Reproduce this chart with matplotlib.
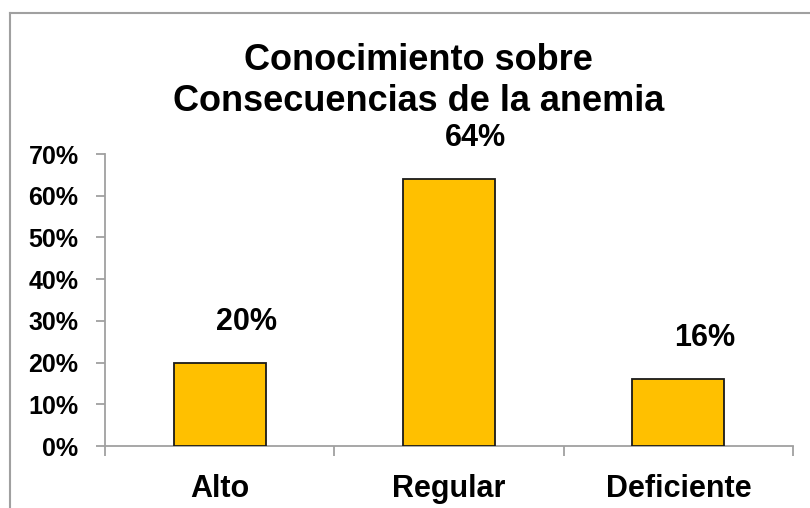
import matplotlib
matplotlib.use("Agg")
import matplotlib.pyplot as plt
from matplotlib.lines import Line2D
from matplotlib.ticker import FuncFormatter

categories = ["Alto", "Regular", "Deficiente"]
values = [0.20, 0.64, 0.16]
value_labels = ["20%", "64%", "16%"]
yticks = [0.0, 0.1, 0.2, 0.3, 0.4, 0.5, 0.6, 0.7]
title = "Conocimiento sobre\nConsecuencias de la anemia"

BAR_COLOR = "#FFC000"
AXIS_COLOR = "#A0A0A0"

plt.rcParams["font.family"] = ["Liberation Sans", "DejaVu Sans"]
plt.rcParams["font.weight"] = "bold"

W, H = 810, 508
fig = plt.figure(figsize=(W / 100, H / 100), dpi=100)
fig.patch.set_facecolor("white")

# outer chart border (left and top visible in the reference)
fig.add_artist(Line2D([10 / W, 10 / W], [-0.1, 1 - 13 / H], transform=fig.transFigure,
                      color=AXIS_COLOR, lw=1.5))
fig.add_artist(Line2D([10 / W, 1.1], [1 - 13 / H, 1 - 13 / H], transform=fig.transFigure,
                      color=AXIS_COLOR, lw=1.5))

ax = fig.add_axes([105 / W, 62 / H, (793 - 105) / W, (446 - 154) / H])
x = list(range(len(categories)))
ax.bar(x, values, width=0.4, color=BAR_COLOR, edgecolor="#1a1a1a", linewidth=1.3, zorder=3)

# value labels sit a little right of the bar centre, as in the source chart
for xi, v, lab in zip(x, values, value_labels):
    ax.annotate(lab, (xi, v), xytext=(19, 29.5), textcoords="offset points",
                ha="center", va="center", fontsize=22, fontweight="bold")

ax.set_xlim(-0.5, len(categories) - 0.5)
ax.set_ylim(0, 0.7)
ax.set_yticks(yticks)
ax.yaxis.set_major_formatter(FuncFormatter(lambda v, _: f"{v * 100:.0f}%"))
ax.set_xticks(x)
ax.set_xticklabels(categories, fontsize=22, fontweight="bold")
ax.set_xticks([-0.5, 0.5, 1.5, 2.5], minor=True)
ax.tick_params(axis="x", which="major", length=0, pad=20)
ax.tick_params(axis="x", which="minor", length=7, width=1.3, color=AXIS_COLOR, direction="out")
ax.tick_params(axis="y", length=6.5, width=1.3, color=AXIS_COLOR, labelsize=18, pad=12.5)
for lab in ax.get_yticklabels():
    lab.set_fontweight("bold")

for s in ["top", "right"]:
    ax.spines[s].set_visible(False)
for s in ["left", "bottom"]:
    ax.spines[s].set_color(AXIS_COLOR)
    ax.spines[s].set_linewidth(1.3)

fig.text(0.517, 1 - 81 / H, title, ha="center", va="center", fontsize=26,
         fontweight="bold", linespacing=1.2)

fig.savefig("out.png", dpi=100)
